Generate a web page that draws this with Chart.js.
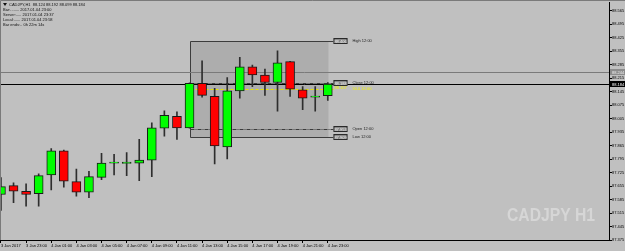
<!DOCTYPE html>
<html>
<head>
<meta charset="utf-8">
<script src="https://cdn.jsdelivr.net/npm/chart.js@4"></script>
<style>
  html, body { margin: 0; padding: 0; background: #c0c0c0; overflow: hidden; }
  canvas { display: block; }
</style>
</head>
<body>
<canvas id="chart" width="625" height="251"></canvas>
<script>
// CADJPY H1, bars from 3 Jan 21:00 to 4 Jan 23:00
var opens  = [87.611, 87.657, 87.628, 87.615, 87.712, 87.837, 87.678, 87.623, 87.700, 87.774, 87.772, 87.774, 87.789, 87.955, 88.017, 87.957, 88.188, 88.120, 87.858, 88.149, 88.274, 88.231, 88.192, 88.300, 88.154, 88.116, 88.124]
var highs  = [87.699, 87.671, 87.666, 87.718, 87.849, 87.842, 87.743, 87.731, 87.825, 87.820, 87.828, 87.897, 87.983, 88.045, 88.040, 88.190, 88.305, 88.162, 88.217, 88.322, 88.283, 88.262, 88.356, 88.302, 88.171, 88.171, 88.192]
var lows   = [87.529, 87.569, 87.550, 87.551, 87.635, 87.649, 87.603, 87.594, 87.688, 87.712, 87.709, 87.683, 87.704, 87.914, 87.897, 87.955, 88.116, 87.770, 87.796, 88.111, 88.171, 88.125, 88.043, 88.120, 88.051, 88.043, 88.099]
var closes = [87.652, 87.628, 87.611, 87.709, 87.837, 87.680, 87.623, 87.704, 87.774, 87.775, 87.779, 87.789, 87.957, 88.022, 87.957, 88.188, 88.125, 87.863, 88.149, 88.274, 88.231, 88.192, 88.294, 88.157, 88.111, 88.120, 88.184]

// one label every 2 bars
var timeLabels = ['3 Jan 2017', '3 Jan 23:00', '4 Jan 01:00', '4 Jan 03:00', '4 Jan 05:00', '4 Jan 07:00', '4 Jan 09:00',
                  '4 Jan 11:00', '4 Jan 13:00', '4 Jan 15:00', '4 Jan 17:00', '4 Jan 19:00', '4 Jan 21:00', '4 Jan 23:00']
var priceTicks = [87.375, 87.445, 87.515, 87.585, 87.655, 87.725, 87.795, 87.865, 87.935,
                  88.005, 88.075, 88.145, 88.215, 88.285, 88.355, 88.425, 88.495, 88.565]

// 12:00 range box
var levelNames  = ['High 12:00', 'Close 12:00', '50.0 12:00', 'Open 12:00', 'Low 12:00']
var levelValues = [88.406, 88.188, 88.157, 87.953, 87.909]
var boxFrom = 15, boxTo = 26
var bidPrice = 88.184
var askPrice = 88.244

var infoLines = [
  'CADJPY,H1  88.124 88.192 88.099 88.184',
  'Bar:........ 2017.01.04 23:00',
  'Server:..... 2017.01.04 23:37',
  'Local:...... 2017.01.04 23:58',
  'Bar ends:.. 0h 22m 14s'
]

var smallFont = '4px "Liberation Sans", Arial, sans-serif'

var wickData = lows.map(function (l, i) { return { x: i, y: [l, highs[i]] } })
var bodyData = opens.map(function (o, i) { return { x: i, y: [o, closes[i]] } })
var bodyColors = opens.map(function (o, i) { return closes[i] >= o ? '#00ff00' : '#ff0000' })

var overlay = {
  id: 'overlay',
  beforeDraw: function (chart) {
    var ctx = chart.ctx
    ctx.save()
    ctx.fillStyle = '#c0c0c0'
    ctx.fillRect(0, 0, chart.width, chart.height)
    ctx.restore()
  },
  beforeDatasetsDraw: function (chart) {
    var ctx = chart.ctx, xs = chart.scales.x, ys = chart.scales.y, area = chart.chartArea
    ctx.save()

    // watermark
    ctx.font = 'bold 19px "Liberation Sans", Arial, sans-serif'
    ctx.fillStyle = '#d6d6d6'
    ctx.textBaseline = 'alphabetic'
    var w = ctx.measureText('CADJPY H1').width
    ctx.save()
    ctx.translate(507, 221)
    ctx.scale(88 / w, 1)
    ctx.fillText('CADJPY H1', 0, 0)
    ctx.restore()

    // box
    var bx0 = Math.round(xs.getPixelForValue(boxFrom)) + 0.5
    var bx1 = Math.round(xs.getPixelForValue(boxTo)) + 0.5
    var by0 = Math.round(ys.getPixelForValue(levelValues[0])) + 0.5
    var by1 = Math.round(ys.getPixelForValue(levelValues[4])) + 0.5
    ctx.fillStyle = '#adadad'
    ctx.fillRect(bx0, by0, bx1 - bx0, by1 - by0)
    ctx.strokeStyle = '#3c3c3c'
    ctx.lineWidth = 1
    ctx.beginPath()
    ctx.moveTo(bx1 + 5, by0); ctx.lineTo(bx0, by0); ctx.lineTo(bx0, by1); ctx.lineTo(bx1 + 5, by1)
    ctx.stroke()

    // close / mid / open lines
    levelValues.forEach(function (v, i) {
      if (i === 0 || i === 4) return
      var py = Math.round(ys.getPixelForValue(v)) + 0.5
      ctx.beginPath()
      if (i === 2) {
        ctx.strokeStyle = '#e6e600'
        ctx.setLineDash([3, 2])
      } else {
        ctx.strokeStyle = '#3c3c3c'
        ctx.setLineDash([4, 1, 1, 1])
      }
      ctx.moveTo(bx0, py); ctx.lineTo(bx1 + 5, py)
      ctx.stroke()
    })
    ctx.setLineDash([])

    // ask / bid lines
    var ay = Math.round(ys.getPixelForValue(askPrice)) + 0.5
    var by = Math.round(ys.getPixelForValue(bidPrice)) + 0.5
    ctx.strokeStyle = '#7a7a7a'
    ctx.beginPath(); ctx.moveTo(area.left, ay); ctx.lineTo(area.right, ay); ctx.stroke()
    ctx.strokeStyle = '#000000'
    ctx.beginPath(); ctx.moveTo(area.left, by); ctx.lineTo(area.right, by); ctx.stroke()

    // level labels
    ctx.font = smallFont
    ctx.textBaseline = 'middle'
    levelValues.forEach(function (v, i) {
      var py = Math.round(ys.getPixelForValue(v))
      var lx = bx1 + 5
      if (i === 2) {
        ctx.fillStyle = '#f0f000'
        ctx.textAlign = 'left'
        ctx.fillText(v.toFixed(3), lx + 1, py - 1)
        ctx.fillText(levelNames[i], lx + 19, py)
        return
      }
      ctx.fillStyle = '#8a8a8a'
      ctx.fillRect(lx, py - 3, 14, 6)
      ctx.strokeStyle = '#2a2a2a'
      ctx.strokeRect(lx + 0.5, py - 2.5, 13, 5)
      ctx.fillStyle = '#f2f2f2'
      ctx.textAlign = 'center'
      ctx.fillText(v.toFixed(3), lx + 7, py + 0.5)
      ctx.fillStyle = '#1e1e1e'
      ctx.textAlign = 'left'
      ctx.fillText(levelNames[i], lx + 19, py)
    })
    ctx.restore()
  },
  afterDraw: function (chart) {
    var ctx = chart.ctx, ys = chart.scales.y, area = chart.chartArea
    ctx.save()
    ctx.strokeStyle = '#7a7a7a'
    ctx.lineWidth = 1
    ctx.beginPath()
    ctx.moveTo(0.5, area.bottom); ctx.lineTo(0.5, 0.5); ctx.lineTo(chart.width, 0.5)
    ctx.stroke()

    // info block
    ctx.fillStyle = '#101010'
    ctx.beginPath(); ctx.moveTo(3, 3); ctx.lineTo(7, 3); ctx.lineTo(5, 6); ctx.closePath(); ctx.fill()
    ctx.font = smallFont
    ctx.textBaseline = 'middle'
    ctx.textAlign = 'left'
    infoLines.forEach(function (t, i) {
      ctx.fillText(t, i === 0 ? 9 : 3, 4.5 + i * 4.8 + (i > 0 ? 0.8 : 0))
    })

    // axis price tags
    var tags = [[askPrice, '#8c8c8c', '#f0f0f0'], [bidPrice, '#000000', '#ffffff']]
    tags.forEach(function (t) {
      var py = Math.round(ys.getPixelForValue(t[0]))
      ctx.fillStyle = t[1]
      ctx.fillRect(area.right + 1, py - 3, 15, 6)
      ctx.fillStyle = t[2]
      ctx.fillText(t[0].toFixed(3), area.right + 3, py + 0.5)
    })
    ctx.restore()
  }
}

new Chart(document.getElementById('chart'), {
  type: 'bar',
  data: {
    datasets: [
      {
        label: 'wick',
        data: wickData,
        backgroundColor: '#2e2e2e',
        barThickness: 1,
        grouped: false,
        order: 2
      },
      {
        label: 'body',
        data: bodyData,
        backgroundColor: bodyColors,
        borderColor: '#1a1a1a',
        borderWidth: 1,
        borderSkipped: false,
        barThickness: 9,
        minBarLength: 1,
        grouped: false,
        order: 1
      }
    ]
  },
  options: {
    responsive: false,
    animation: false,
    devicePixelRatio: 1,
    layout: { padding: 0 },
    plugins: { legend: { display: false }, tooltip: { enabled: false } },
    scales: {
      x: {
        type: 'linear',
        min: -0.076,
        max: 48.37,
        offset: false,
        afterBuildTicks: function (scale) {
          scale.ticks = timeLabels.map(function (t, i) { return { value: i * 2 } })
        },
        afterFit: function (scale) { scale.height = 11 },
        ticks: {
          autoSkip: false,
          maxRotation: 0,
          align: 'start',
          padding: 0,
          color: '#000',
          font: { size: 4, family: '"Liberation Sans", Arial, sans-serif' },
          callback: function (v, i) { return timeLabels[i] }
        },
        grid: { drawOnChartArea: false, offset: false, tickLength: 3, color: '#000' },
        border: { color: '#000' }
      },
      y: {
        position: 'right',
        min: 87.375,
        max: 88.6076,
        afterBuildTicks: function (scale) {
          scale.ticks = priceTicks.map(function (v) { return { value: v } })
        },
        afterFit: function (scale) { scale.width = 16 },
        ticks: {
          padding: 0,
          color: '#000',
          font: { size: 4, family: '"Liberation Sans", Arial, sans-serif' },
          callback: function (v) { return v.toFixed(3) }
        },
        grid: { drawOnChartArea: false, tickLength: 3, color: '#000' },
        border: { color: '#000' }
      }
    }
  },
  plugins: [overlay]
})
</script>
</body>
</html>
